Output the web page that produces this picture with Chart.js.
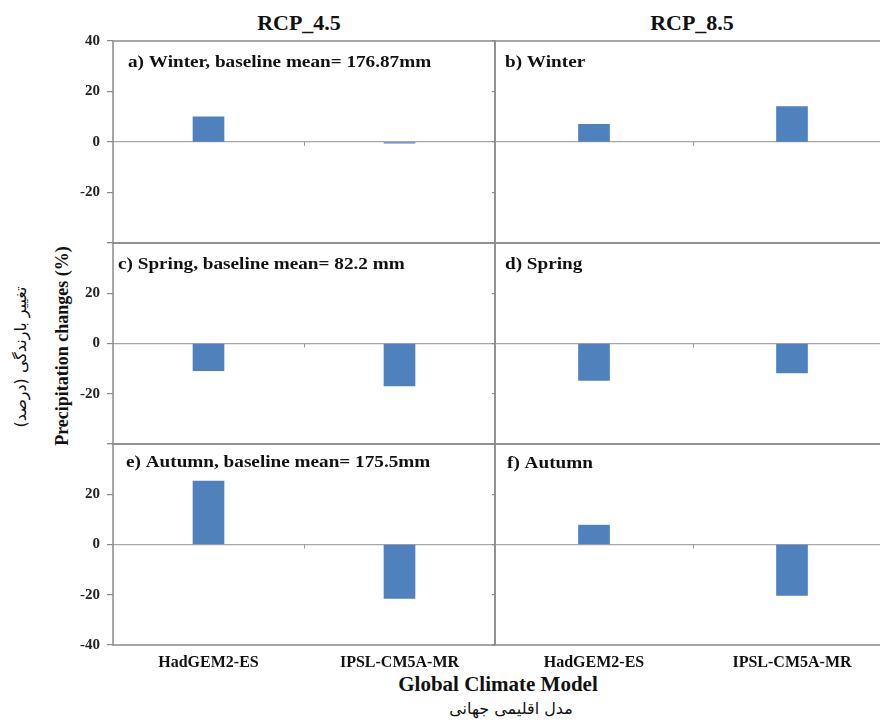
<!DOCTYPE html>
<html>
<head>
<meta charset="utf-8">
<script src="https://cdn.jsdelivr.net/npm/chart.js@4.4.1/dist/chart.umd.min.js"></script>
<style>
  html, body { margin:0; padding:0; background:#fff; width:880px; height:720px; overflow:hidden; }
  #wrap { position:relative; width:880px; height:720px; overflow:hidden; }
  .cv { position:absolute; }
  .lbl { position:absolute; transform:translate(-50%,-50%); white-space:nowrap; color:#111; }
  .serif { font-family:"Liberation Serif","DejaVu Serif",serif; font-weight:bold; }
  .fa { font-family:"DejaVu Sans",sans-serif; font-weight:normal; }
</style>
</head>
<body>
<div id="wrap">
  <div class="lbl serif" style="left:299px;top:23px;font-size:22px;">RCP_4.5</div>
  <div class="lbl serif" style="left:692px;top:23px;font-size:22px;">RCP_8.5</div>
  <div class="lbl serif" style="left:62px;top:346px;font-size:18px;transform:translate(-50%,-50%) rotate(-90deg);">Precipitation changes (%)</div>
  <div class="lbl fa" dir="rtl" style="left:20px;top:357px;font-size:16px;transform:translate(-50%,-50%) rotate(-90deg);">تغییر بارندگی (درصد)</div>
  <div class="lbl serif" style="left:498px;top:684px;font-size:21px;">Global Climate Model</div>
  <div class="lbl fa" dir="rtl" style="left:511px;top:708px;font-size:16px;">مدل اقلیمی جهانی</div>
</div>
<script>
// ---- data ----
const models = ["HadGEM2-ES", "IPSL-CM5A-MR"];
const panelTitles = [
  "a) Winter, baseline mean= 176.87mm", "b) Winter",
  "c) Spring, baseline mean= 82.2 mm", "d) Spring",
  "e) Autumn, baseline mean= 175.5mm", "f) Autumn"
];
const winterRcp45 = [10, -0.5];
const winterRcp85 = [7, 14];
const springRcp45 = [-10.8, -16.9];
const springRcp85 = [-14.7, -11.7];
const autumnRcp45 = [25.2, -21.5];
const autumnRcp85 = [7.7, -20.3];
const panelValues = [winterRcp45, winterRcp85, springRcp45, springRcp85, autumnRcp45, autumnRcp85];
const rowTickLabels = [[40, 20, 0, -20], [20, 0, -20], [20, 0, -20, -40]];
const yMin = -40, yMax = 40, yStep = 20;

// ---- layout ----
const rowTops = [41, 243, 444];
const panelH = [202, 201, 201];
const colLeft = [113, 495];
const colRight = [495, 891];
const titleDx = [15, 10, 5, 10, 13, 12];
const titleDy = [26, 26, 26, 26, 23, 24];
const PAD = 16, XAXIS_H = 30;
const barColor = "#4f81bd";
const borderColor = "#8a8a8a";

const decor = {
  id: "decor",
  afterDraw(chart) {
    const o = chart.options.plugins.decor;
    const a = chart.chartArea;
    const ctx = chart.ctx;
    ctx.save();
    ctx.strokeStyle = borderColor;
    ctx.lineWidth = 1.5;
    ctx.strokeRect(a.left, a.top, a.right - a.left, a.bottom - a.top);
    // small divider tick on the zero line
    const xs = chart.scales.x, ys = chart.scales.y;
    const mx = (xs.getPixelForValue(0) + xs.getPixelForValue(1)) / 2;
    const zy = ys.getPixelForValue(0);
    ctx.strokeStyle = "#999";
    ctx.lineWidth = 1;
    ctx.beginPath(); ctx.moveTo(Math.round(mx) + 0.5, zy); ctx.lineTo(Math.round(mx) + 0.5, zy + 4); ctx.stroke();
    ctx.fillStyle = "#111";
    ctx.font = "bold 16px 'Liberation Serif', serif";
    ctx.textBaseline = "alphabetic";
    ctx.textAlign = "left";
    ctx.translate(a.left + o.dx, a.top + o.dy);
    ctx.scale(1.2, 1);
    ctx.fillText(o.title, 0, 0);
    ctx.restore();
  }
};

const wrap = document.getElementById("wrap");
for (let r = 0; r < 3; r++) {
  for (let c = 0; c < 2; c++) {
    const idx = r * 2 + c;
    const isBottom = r === 2;
    const yW = c === 0 ? 113 : 3;
    const left = colLeft[c] - yW;
    const width = (colRight[c] - colLeft[c]) + yW + 2;
    const top = rowTops[r] - PAD;
    const height = panelH[r] + PAD * 2 + (isBottom ? XAXIS_H : 0);
    const cv = document.createElement("canvas");
    cv.className = "cv";
    cv.style.left = left + "px";
    cv.style.top = top + "px";
    cv.style.width = width + "px";
    cv.style.height = height + "px";
    cv.width = width; cv.height = height;
    wrap.appendChild(cv);
    const rowLabels = rowTickLabels[r];
    new Chart(cv, {
      type: "bar",
      data: {
        labels: models,
        datasets: [{ data: panelValues[idx], backgroundColor: barColor, borderWidth: 0, barThickness: 31 }]
      },
      options: {
        responsive: false,
        maintainAspectRatio: false,
        animation: false,
        events: [],
        layout: { padding: { left: 0, right: 2, top: PAD, bottom: PAD } },
        plugins: {
          legend: { display: false },
          tooltip: { enabled: false },
          decor: { title: panelTitles[idx], dx: titleDx[idx], dy: titleDy[idx] }
        },
        scales: {
          x: {
            display: isBottom,
            offset: true,
            grid: { display: false, drawTicks: false },
            border: { display: false },
            ticks: {
              padding: 8,
              color: "#111",
              font: { family: "'Liberation Serif', serif", weight: "bold", size: 16 },
              maxRotation: 0
            },
            afterFit(s) { s.height = isBottom ? XAXIS_H : 0; }
          },
          y: {
            min: yMin, max: yMax,
            border: { display: false },
            grid: {
              color: (ctx) => (ctx.tick && ctx.tick.value === 0 ? "#a8a8a8" : "rgba(0,0,0,0)"),
              tickColor: borderColor,
              drawTicks: true,
              tickLength: c === 0 ? 6 : 3,
              lineWidth: 1.2
            },
            ticks: {
              display: c === 0,
              stepSize: yStep,
              padding: 7,
              color: "#222",
              font: { family: "'Liberation Serif', serif", weight: "bold", size: 15 },
              callback: (v) => (rowLabels.includes(v) ? String(v) : "")
            },
            afterFit(s) { s.width = yW; }
          }
        }
      },
      plugins: [decor]
    });
  }
}
</script>
</body>
</html>
